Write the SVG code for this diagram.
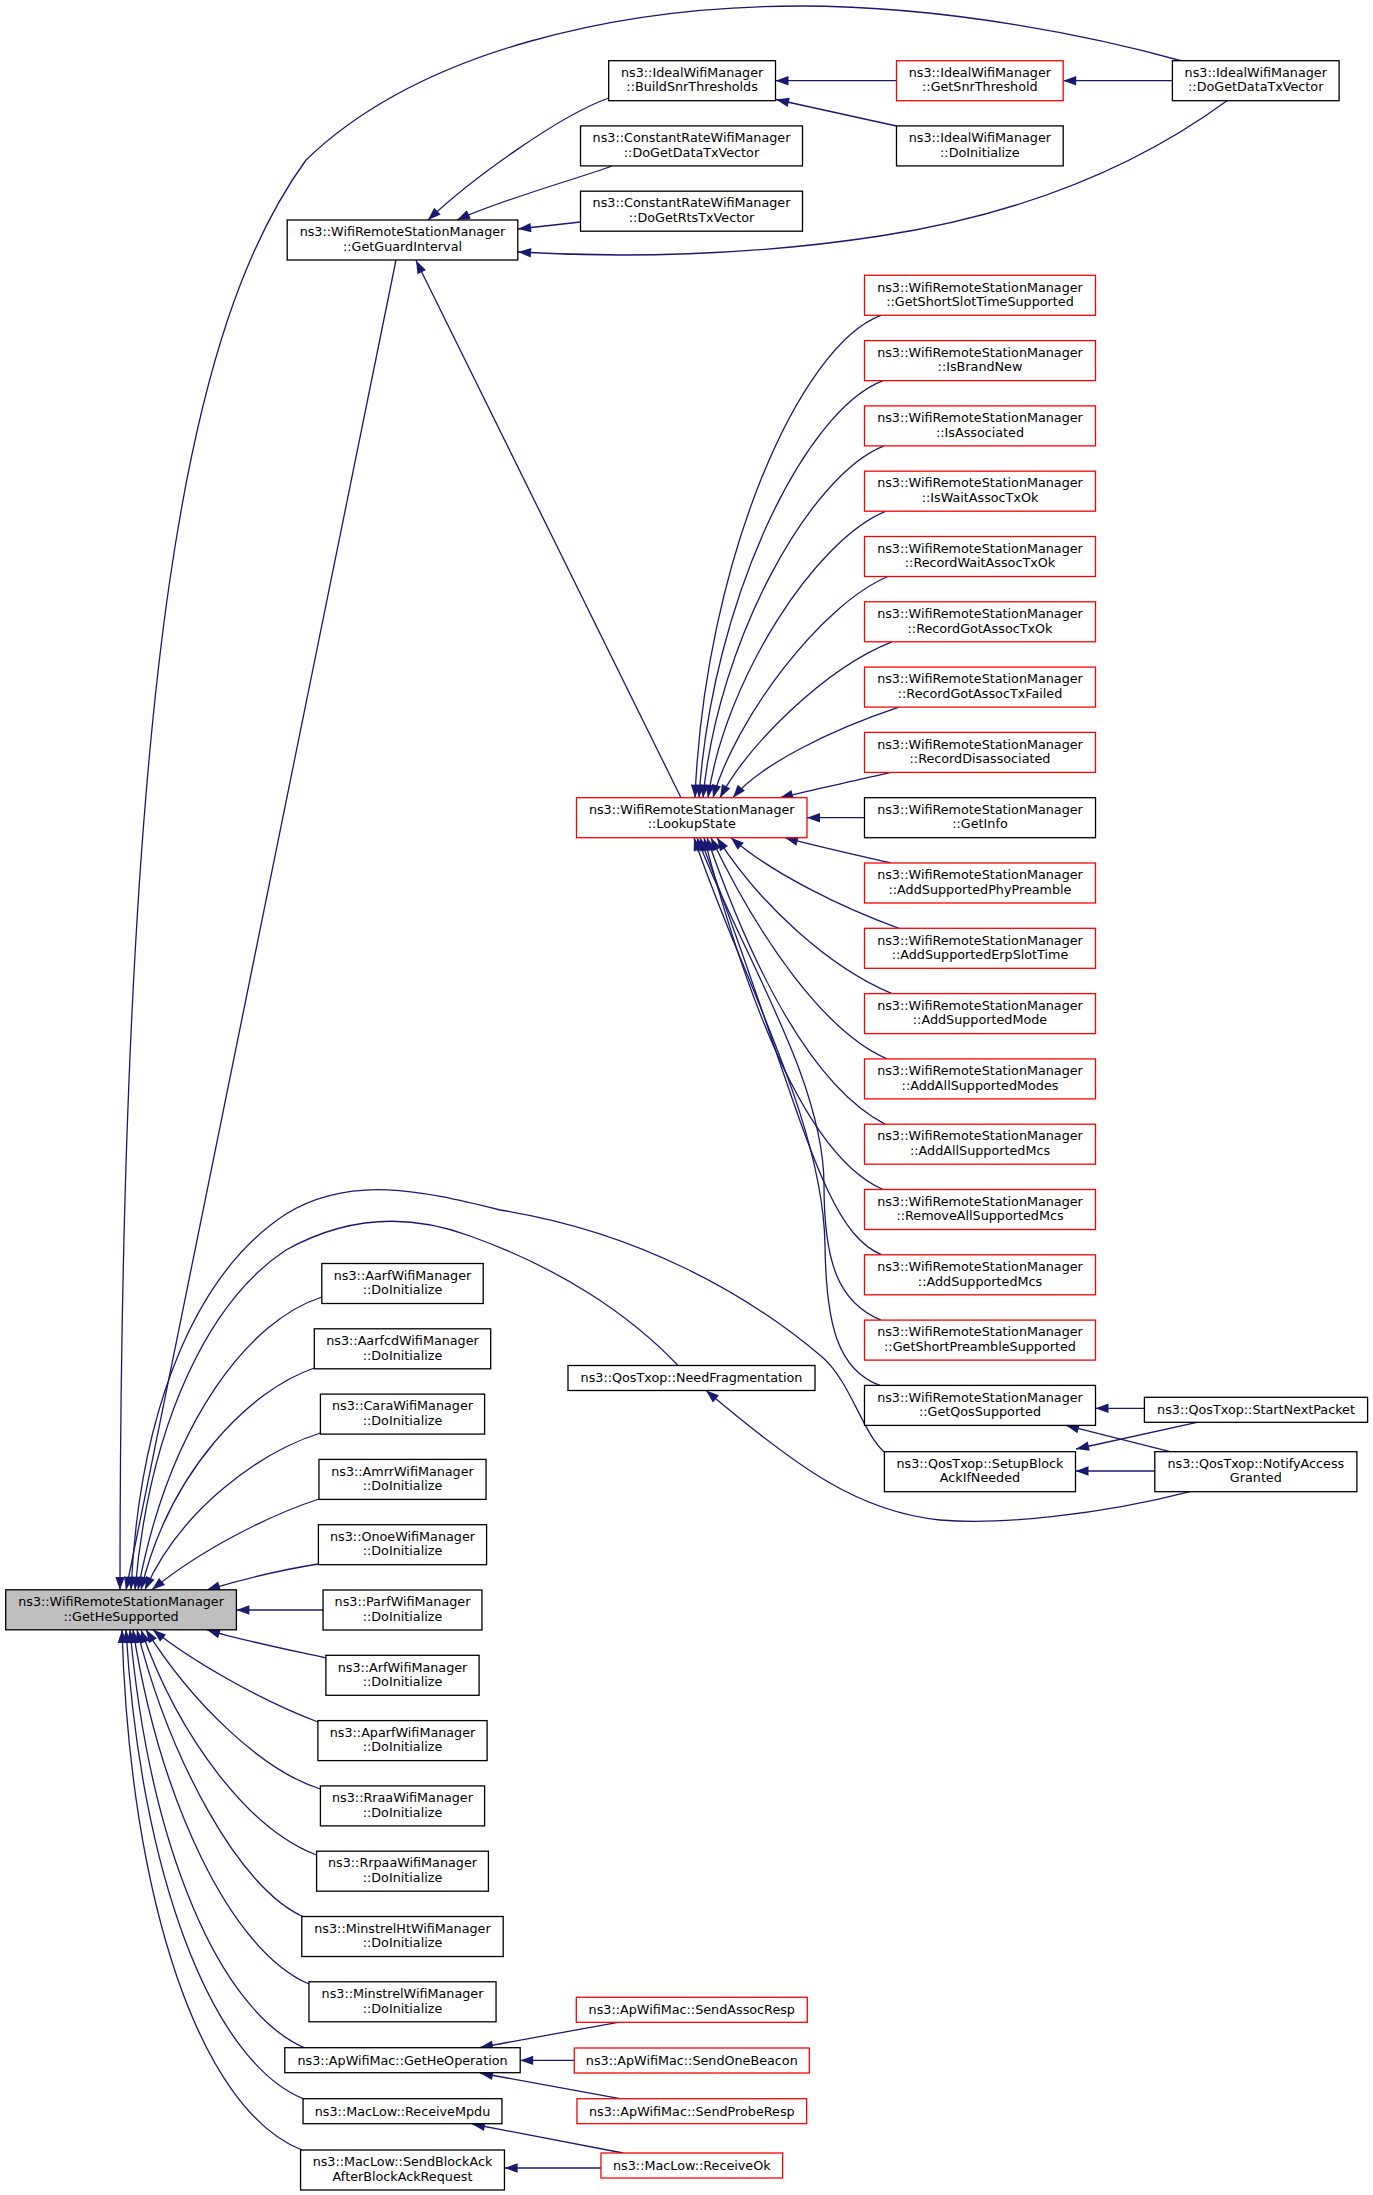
<svg xmlns="http://www.w3.org/2000/svg" width="1373" height="2195" viewBox="0 0 1373 2195">
<style>
.n rect{fill:#fff;stroke:#000;stroke-width:1.3}
.n.r rect{stroke:#f00}
.n.g rect{fill:#bfbfbf}
text{font-family:"DejaVu Sans","Liberation Sans",sans-serif;font-size:12.75px;text-anchor:middle;fill:#000}
.e path{fill:none;stroke:#191970;stroke-width:1.3;marker-end:url(#a)}
</style>
<defs>
<marker id="a" markerUnits="userSpaceOnUse" markerWidth="14" markerHeight="10" refX="13" refY="5" orient="auto" overflow="visible">
<path d="M0,0.3 L13,5 L0,9.7 z" fill="#191970"/>
</marker>
</defs>
<rect x="0" y="0" width="1373" height="2195" fill="#fff"/>
<g id="edges" class="e">
<path d="M609,98 C560,115 470,180 428,220"/>
<path d="M612,166 C580,178 500,200 457,220"/>
<path d="M580.5,222 L518,229"/>
<path d="M1228,100 C1160,150 1050,210 880,236 C750,256 620,258 518,252"/>
<path d="M896.5,80.7 L775.5,80.7"/>
<path d="M896.5,126 L776,99.5"/>
<path d="M1172.4,80.7 L1063.2,80.7"/>
<path d="M1182,61 C1100,38 950,6 800,6 C620,6 420,50 306,160 C190,320 120,650 120,1590"/>
<path d="M396,260 L126,1590"/>
<path d="M681,797.7 L416,260.5"/>
<path d="M881,315.3 C800,345 705,560 695,797.7"/>
<path d="M883,380.6 C805,410 712,600 699,797.7"/>
<path d="M884,445.9 C810,475 718,640 703,797.7"/>
<path d="M886,511.2 C815,540 725,680 708,797.7"/>
<path d="M888,576.5 C820,605 735,720 713,797.7"/>
<path d="M892,641.8 C825,668 748,745 720,797.7"/>
<path d="M899,707.1 C830,730 760,765 733,797.7"/>
<path d="M891,772.4 C850,782 810,790 780,797.7"/>
<path d="M864.5,817.7 L807,817.7"/>
<path d="M891,863 C860,856 815,846 785,837.7"/>
<path d="M899,928.3 C840,907 770,872 731,837.7"/>
<path d="M892,993.6 C830,968 760,905 717,837.7"/>
<path d="M887,1058.9 C825,1032 760,940 711,837.7"/>
<path d="M885,1124.2 C820,1090 760,990 707,837.7"/>
<path d="M883,1189.5 C815,1160 755,1030 704,837.7"/>
<path d="M882,1254.8 C820,1230 800,1100 700,837.7"/>
<path d="M881,1320.1 C838,1302 824,1262 824,1185 C824,1080 742,955 697,837.7"/>
<path d="M880,1385.4 C838,1370 826,1325 825,1245 C823,1120 740,975 694,837.7"/>
<path d="M1144.4,1408.3 L1095.5,1408.3"/>
<path d="M1170,1451.7 L1066,1425.4"/>
<path d="M1197,1422.3 L1076,1449"/>
<path d="M1154.8,1471 L1075.5,1471"/>
<path d="M1190,1491.7 C1100,1515 1000,1525 940,1520 C860,1512 800,1470 706,1390.5"/>
<path d="M884,1451.7 C862,1432 850,1380 821,1356 C750,1296 640,1232 500,1210 C420,1190 350,1175 286,1214 C200,1270 140,1400 131,1589.8"/>
<path d="M678,1365.5 C630,1315 560,1268 470,1236 C400,1210 340,1220 286,1250 C210,1300 150,1420 135,1589.8"/>
<path d="M322,1297 C250,1320 170,1420 138,1589.8"/>
<path d="M314.3,1368 C250,1390 170,1470 141,1589.8"/>
<path d="M320.4,1433 C260,1452 180,1510 145,1589.8"/>
<path d="M319,1499 C270,1515 200,1550 152,1589.8"/>
<path d="M318.4,1564 C280,1570 240,1580 207,1589.8"/>
<path d="M323,1610 L236.4,1610"/>
<path d="M326,1658 C290,1650 240,1640 207,1629.8"/>
<path d="M318,1722 C260,1700 190,1660 153,1629.8"/>
<path d="M320.4,1789 C260,1770 190,1700 146,1629.8"/>
<path d="M316.6,1855 C250,1830 180,1740 141,1629.8"/>
<path d="M304,1917 C240,1890 170,1760 137,1629.8"/>
<path d="M309,1984 C230,1950 160,1800 133,1629.8"/>
<path d="M304,2047.7 C220,2010 150,1850 130,1629.8"/>
<path d="M303,2098.7 C210,2060 140,1870 126,1629.8"/>
<path d="M302,2150 C200,2110 130,1900 122,1629.8"/>
<path d="M618,2022.3 L480,2047.5"/>
<path d="M574.3,2060.4 L520.2,2060.4"/>
<path d="M620,2098.7 L480,2073"/>
<path d="M623,2153 L472,2124"/>
<path d="M601,2168 L504.6,2168"/>
</g>
<g id="n_build" class="n"><rect x="608.7" y="60.7" width="166.8" height="40"/><text x="692.1" y="76.9">ns3::IdealWifiManager</text><text x="692.1" y="91.4">::BuildSnrThresholds</text></g>
<g id="n_snr" class="n r"><rect x="896.5" y="60.7" width="166.7" height="40"/><text x="979.85" y="76.9">ns3::IdealWifiManager</text><text x="979.85" y="91.4">::GetSnrThreshold</text></g>
<g id="n_idealdata" class="n"><rect x="1172.4" y="60.7" width="166.7" height="40"/><text x="1255.75" y="76.9">ns3::IdealWifiManager</text><text x="1255.75" y="91.4">::DoGetDataTxVector</text></g>
<g id="n_crdata" class="n"><rect x="580.5" y="125.9" width="222" height="40"/><text x="691.5" y="142.1">ns3::ConstantRateWifiManager</text><text x="691.5" y="156.6">::DoGetDataTxVector</text></g>
<g id="n_idealinit" class="n"><rect x="896.5" y="125.9" width="166.7" height="40"/><text x="979.85" y="142.1">ns3::IdealWifiManager</text><text x="979.85" y="156.6">::DoInitialize</text></g>
<g id="n_crrts" class="n"><rect x="580.5" y="191.2" width="222" height="40"/><text x="691.5" y="207.4">ns3::ConstantRateWifiManager</text><text x="691.5" y="221.9">::DoGetRtsTxVector</text></g>
<g id="n_ggi" class="n"><rect x="287.2" y="220" width="230.6" height="40"/><text x="402.5" y="236.2">ns3::WifiRemoteStationManager</text><text x="402.5" y="250.7">::GetGuardInterval</text></g>
<g id="n_k0" class="n r"><rect x="864.5" y="275.3" width="231" height="40"/><text x="980" y="291.5">ns3::WifiRemoteStationManager</text><text x="980" y="306">::GetShortSlotTimeSupported</text></g>
<g id="n_k1" class="n r"><rect x="864.5" y="340.6" width="231" height="40"/><text x="980" y="356.8">ns3::WifiRemoteStationManager</text><text x="980" y="371.3">::IsBrandNew</text></g>
<g id="n_k2" class="n r"><rect x="864.5" y="405.9" width="231" height="40"/><text x="980" y="422.1">ns3::WifiRemoteStationManager</text><text x="980" y="436.6">::IsAssociated</text></g>
<g id="n_k3" class="n r"><rect x="864.5" y="471.2" width="231" height="40"/><text x="980" y="487.4">ns3::WifiRemoteStationManager</text><text x="980" y="501.9">::IsWaitAssocTxOk</text></g>
<g id="n_k4" class="n r"><rect x="864.5" y="536.5" width="231" height="40"/><text x="980" y="552.7">ns3::WifiRemoteStationManager</text><text x="980" y="567.2">::RecordWaitAssocTxOk</text></g>
<g id="n_k5" class="n r"><rect x="864.5" y="601.8" width="231" height="40"/><text x="980" y="618">ns3::WifiRemoteStationManager</text><text x="980" y="632.5">::RecordGotAssocTxOk</text></g>
<g id="n_k6" class="n r"><rect x="864.5" y="667.1" width="231" height="40"/><text x="980" y="683.3">ns3::WifiRemoteStationManager</text><text x="980" y="697.8">::RecordGotAssocTxFailed</text></g>
<g id="n_k7" class="n r"><rect x="864.5" y="732.4" width="231" height="40"/><text x="980" y="748.6">ns3::WifiRemoteStationManager</text><text x="980" y="763.1">::RecordDisassociated</text></g>
<g id="n_k8" class="n"><rect x="864.5" y="797.7" width="231" height="40"/><text x="980" y="813.9">ns3::WifiRemoteStationManager</text><text x="980" y="828.4">::GetInfo</text></g>
<g id="n_k9" class="n r"><rect x="864.5" y="863" width="231" height="40"/><text x="980" y="879.2">ns3::WifiRemoteStationManager</text><text x="980" y="893.7">::AddSupportedPhyPreamble</text></g>
<g id="n_k10" class="n r"><rect x="864.5" y="928.3" width="231" height="40"/><text x="980" y="944.5">ns3::WifiRemoteStationManager</text><text x="980" y="959">::AddSupportedErpSlotTime</text></g>
<g id="n_k11" class="n r"><rect x="864.5" y="993.6" width="231" height="40"/><text x="980" y="1009.8">ns3::WifiRemoteStationManager</text><text x="980" y="1024.3">::AddSupportedMode</text></g>
<g id="n_k12" class="n r"><rect x="864.5" y="1058.9" width="231" height="40"/><text x="980" y="1075.1">ns3::WifiRemoteStationManager</text><text x="980" y="1089.6">::AddAllSupportedModes</text></g>
<g id="n_k13" class="n r"><rect x="864.5" y="1124.2" width="231" height="40"/><text x="980" y="1140.4">ns3::WifiRemoteStationManager</text><text x="980" y="1154.9">::AddAllSupportedMcs</text></g>
<g id="n_k14" class="n r"><rect x="864.5" y="1189.5" width="231" height="40"/><text x="980" y="1205.7">ns3::WifiRemoteStationManager</text><text x="980" y="1220.2">::RemoveAllSupportedMcs</text></g>
<g id="n_k15" class="n r"><rect x="864.5" y="1254.8" width="231" height="40"/><text x="980" y="1271">ns3::WifiRemoteStationManager</text><text x="980" y="1285.5">::AddSupportedMcs</text></g>
<g id="n_k16" class="n r"><rect x="864.5" y="1320.1" width="231" height="40"/><text x="980" y="1336.3">ns3::WifiRemoteStationManager</text><text x="980" y="1350.8">::GetShortPreambleSupported</text></g>
<g id="n_k17" class="n"><rect x="864.5" y="1385.4" width="231" height="40"/><text x="980" y="1401.6">ns3::WifiRemoteStationManager</text><text x="980" y="1416.1">::GetQosSupported</text></g>
<g id="n_lookup" class="n r"><rect x="576.5" y="797.7" width="230.5" height="40"/><text x="691.75" y="813.9">ns3::WifiRemoteStationManager</text><text x="691.75" y="828.4">::LookupState</text></g>
<g id="n_needfrag" class="n"><rect x="568" y="1365.5" width="247" height="25"/><text x="691.5" y="1382.3">ns3::QosTxop::NeedFragmentation</text></g>
<g id="n_startnext" class="n"><rect x="1144.4" y="1397.3" width="223.2" height="25"/><text x="1256" y="1414.1">ns3::QosTxop::StartNextPacket</text></g>
<g id="n_setupblock" class="n"><rect x="884.4" y="1451.7" width="191.1" height="40"/><text x="979.95" y="1467.9">ns3::QosTxop::SetupBlock</text><text x="979.95" y="1482.4">AckIfNeeded</text></g>
<g id="n_notify" class="n"><rect x="1154.8" y="1451.7" width="202.1" height="40"/><text x="1255.85" y="1467.9">ns3::QosTxop::NotifyAccess</text><text x="1255.85" y="1482.4">Granted</text></g>
<g id="n_ghs" class="n g"><rect x="5.7" y="1589.8" width="230.7" height="40"/><text x="121.05" y="1606">ns3::WifiRemoteStationManager</text><text x="121.05" y="1620.5">::GetHeSupported</text></g>
<g id="n_aarf" class="n"><rect x="321.8" y="1263.5" width="161.4" height="40"/><text x="402.5" y="1279.7">ns3::AarfWifiManager</text><text x="402.5" y="1294.2">::DoInitialize</text></g>
<g id="n_aarfcd" class="n"><rect x="314.3" y="1328.8" width="176.4" height="40"/><text x="402.5" y="1345">ns3::AarfcdWifiManager</text><text x="402.5" y="1359.5">::DoInitialize</text></g>
<g id="n_cara" class="n"><rect x="320.4" y="1394.1" width="164.2" height="40"/><text x="402.5" y="1410.3">ns3::CaraWifiManager</text><text x="402.5" y="1424.8">::DoInitialize</text></g>
<g id="n_amrr" class="n"><rect x="318.95" y="1459.4" width="167.1" height="40"/><text x="402.5" y="1475.6">ns3::AmrrWifiManager</text><text x="402.5" y="1490.1">::DoInitialize</text></g>
<g id="n_onoe" class="n"><rect x="318.4" y="1524.7" width="168.2" height="40"/><text x="402.5" y="1540.9">ns3::OnoeWifiManager</text><text x="402.5" y="1555.4">::DoInitialize</text></g>
<g id="n_parf" class="n"><rect x="323.05" y="1590" width="158.9" height="40"/><text x="402.5" y="1606.2">ns3::ParfWifiManager</text><text x="402.5" y="1620.7">::DoInitialize</text></g>
<g id="n_arf" class="n"><rect x="325.9" y="1655.3" width="153.2" height="40"/><text x="402.5" y="1671.5">ns3::ArfWifiManager</text><text x="402.5" y="1686">::DoInitialize</text></g>
<g id="n_aparf" class="n"><rect x="317.9" y="1720.6" width="169.2" height="40"/><text x="402.5" y="1736.8">ns3::AparfWifiManager</text><text x="402.5" y="1751.3">::DoInitialize</text></g>
<g id="n_rraa" class="n"><rect x="320.4" y="1785.9" width="164.2" height="40"/><text x="402.5" y="1802.1">ns3::RraaWifiManager</text><text x="402.5" y="1816.6">::DoInitialize</text></g>
<g id="n_rrpaa" class="n"><rect x="316.6" y="1851.2" width="171.8" height="40"/><text x="402.5" y="1867.4">ns3::RrpaaWifiManager</text><text x="402.5" y="1881.9">::DoInitialize</text></g>
<g id="n_minstrelht" class="n"><rect x="301.8" y="1916.5" width="201.4" height="40"/><text x="402.5" y="1932.7">ns3::MinstrelHtWifiManager</text><text x="402.5" y="1947.2">::DoInitialize</text></g>
<g id="n_minstrel" class="n"><rect x="308.95" y="1981.8" width="187.1" height="40"/><text x="402.5" y="1998">ns3::MinstrelWifiManager</text><text x="402.5" y="2012.5">::DoInitialize</text></g>
<g id="n_getheop" class="n"><rect x="284.8" y="2047.7" width="235.4" height="25"/><text x="402.5" y="2064.5">ns3::ApWifiMac::GetHeOperation</text></g>
<g id="n_recvmpdu" class="n"><rect x="303.05" y="2098.7" width="198.9" height="25"/><text x="402.5" y="2115.5">ns3::MacLow::ReceiveMpdu</text></g>
<g id="n_sendblockack" class="n"><rect x="300.55" y="2150" width="203.9" height="40"/><text x="402.5" y="2166.2">ns3::MacLow::SendBlockAck</text><text x="402.5" y="2180.7">AfterBlockAckRequest</text></g>
<g id="n_assocresp" class="n r"><rect x="576.3" y="1997.3" width="231" height="25"/><text x="691.8" y="2014.1">ns3::ApWifiMac::SendAssocResp</text></g>
<g id="n_onebeacon" class="n r"><rect x="574.3" y="2048" width="235" height="25"/><text x="691.8" y="2064.8">ns3::ApWifiMac::SendOneBeacon</text></g>
<g id="n_proberesp" class="n r"><rect x="576.95" y="2098.7" width="229.7" height="25"/><text x="691.8" y="2115.5">ns3::ApWifiMac::SendProbeResp</text></g>
<g id="n_receiveok" class="n r"><rect x="600.95" y="2153" width="181.7" height="25"/><text x="691.8" y="2169.8">ns3::MacLow::ReceiveOk</text></g>
</svg>
